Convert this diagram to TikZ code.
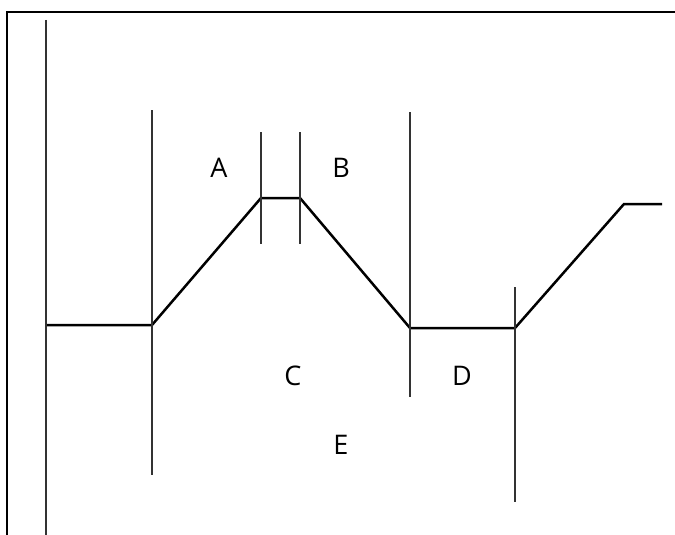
\documentclass[tikz,border=0pt]{standalone}
\usepackage{fontspec}
\setmainfont{Open Sans}
\begin{document}
\begin{tikzpicture}[x=1pt,y=-1pt,
  thin line/.style={draw=black!80,line width=1.3pt},
  curve line/.style={draw=black,line width=2.5pt,line join=miter},
  frame line/.style={draw=black,line width=2pt},
  lbl/.style={font=\fontsize{27}{29}\selectfont,inner sep=0pt}]
\useasboundingbox (0,0) rectangle (675,535);
% frame
\coordinate (f1) at (7,535);
\coordinate (f2) at (7,12);
\coordinate (f3) at (675,12);
\draw[frame line] (f1) -- (f2) -- (f3);
% profile points
\coordinate (p0) at (46,325);
\coordinate (p1) at (152,325);
\coordinate (p2) at (261,198);
\coordinate (p3) at (300,198);
\coordinate (p4) at (410,328);
\coordinate (p5) at (515,328);
\coordinate (p6) at (624,204);
\coordinate (p7) at (662,204);
\draw[curve line] (p0) -- (p1) -- (p2) -- (p3) -- (p4) -- (p5) -- (p6) -- (p7);
% verticals
\coordinate (v0t) at (46,20);   \coordinate (v0b) at (46,535);
\coordinate (v1t) at (152,110); \coordinate (v1b) at (152,475);
\coordinate (v2t) at (261,132); \coordinate (v2b) at (261,244);
\coordinate (v3t) at (300,132); \coordinate (v3b) at (300,244);
\coordinate (v4t) at (410,112); \coordinate (v4b) at (410,397);
\coordinate (v5t) at (515,287); \coordinate (v5b) at (515,502);
\draw[thin line,line width=1.8pt] (v0t) -- (v0b);
\draw[thin line] (v1t) -- (v1b);
\draw[thin line] (v2t) -- (v2b);
\draw[thin line] (v3t) -- (v3b);
\draw[thin line] (v4t) -- (v4b);
\draw[thin line] (v5t) -- (v5b);
% labels
\node[lbl] (A) at (219,168) {A};
\node[lbl] (B) at (341,168) {B};
\node[lbl] (C) at (293,376) {C};
\node[lbl] (D) at (462,376) {D};
\node[lbl] (E) at (341,445) {E};
\end{tikzpicture}
\end{document}
